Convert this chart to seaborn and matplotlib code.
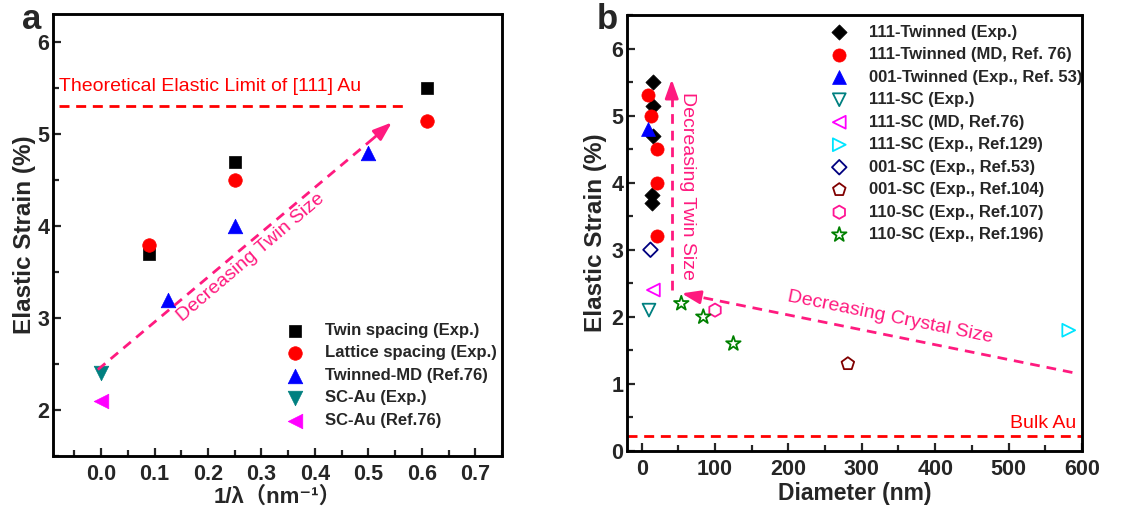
import matplotlib
matplotlib.use("Agg")
import matplotlib.pyplot as plt
import seaborn as sns
from matplotlib.patches import Rectangle
from matplotlib.ticker import MultipleLocator

# ---------------- panel a: strain vs inverse twin spacing ----------------
a_twin_x = [0.09, 0.25, 0.61]
a_twin_y = [3.7, 4.7, 5.5]
a_latt_x = [0.09, 0.25, 0.61]
a_latt_y = [3.8, 4.5, 5.15]
a_md_x = [0.125, 0.25, 0.5]
a_md_y = [3.2, 4.0, 4.8]
a_scexp_x = [0.0]
a_scexp_y = [2.4]
a_scref_x = [0.0]
a_scref_y = [2.1]
a_labels = ["Twin spacing (Exp.)", "Lattice spacing (Exp.)", "Twinned-MD (Ref.76)",
            "SC-Au (Exp.)", "SC-Au (Ref.76)"]
a_limit = 5.31

# ---------------- panel b: strain vs diameter ----------------
b_tw_exp_x = [15, 15, 15, 14, 14]
b_tw_exp_y = [5.5, 5.15, 4.69, 3.82, 3.69]
b_tw_md_x = [9, 13, 21, 21, 21]
b_tw_md_y = [5.3, 5.0, 4.5, 4.0, 3.2]
b_tw001_x = [8]
b_tw001_y = [4.8]
b_sc_exp_x = [10]
b_sc_exp_y = [2.1]
b_sc_md_x = [16]
b_sc_md_y = [2.4]
b_sc129_x = [582]
b_sc129_y = [1.8]
b_sc53_x = [12]
b_sc53_y = [3.0]
b_sc104_x = [281]
b_sc104_y = [1.3]
b_sc107_x = [100]
b_sc107_y = [2.1]
b_sc196_x = [54, 84, 125]
b_sc196_y = [2.2, 2.0, 1.6]
b_labels = ["111-Twinned (Exp.)", "111-Twinned (MD, Ref. 76)", "001-Twinned (Exp., Ref. 53)",
            "111-SC (Exp.)", "111-SC (MD, Ref.76)", "111-SC (Exp., Ref.129)",
            "001-SC (Exp., Ref.53)", "001-SC (Exp., Ref.104)", "110-SC (Exp., Ref.107)",
            "110-SC (Exp., Ref.196)"]
b_bulk = 0.22

sns.set_theme(style="ticks")
plt.rcParams["font.family"] = ["Liberation Sans", "Noto Sans CJK SC", "DejaVu Sans"]
plt.rcParams["axes.linewidth"] = 1.8

PINK = "#ff1a7f"
RED = "#ff0000"
DASH = (0, (3.6, 2.4))

fig = plt.figure(figsize=(11.22, 5.14), dpi=100)
ax_a = fig.add_axes([0.0472, 0.1128, 0.4002, 0.8600])
ax_b = fig.add_axes([0.5588, 0.1226, 0.4055, 0.8482])


def style_axis(ax):
    ax.tick_params(axis="both", which="both", direction="in", top=False, right=False,
                   labelsize=15.5, width=1.6)
    ax.tick_params(axis="x", which="both", pad=6)
    ax.tick_params(axis="y", which="both", pad=2.5)
    ax.tick_params(which="major", length=6)
    ax.tick_params(which="minor", length=4)
    for lab in ax.get_xticklabels() + ax.get_yticklabels():
        lab.set_fontweight("bold")
    for sp in ax.spines.values():
        sp.set_color("black")
        sp.set_linewidth(1.8)
    # closed frame around the plotting area
    ax.add_patch(Rectangle((0, 0), 1, 1, transform=ax.transAxes, fill=False,
                           edgecolor="black", linewidth=1.8, clip_on=False, zorder=6))


def pts(ax, x, y, marker, color, s, label, hollow=False):
    if hollow:
        sns.scatterplot(x=x, y=y, ax=ax, marker=marker, s=s, color=color,
                        facecolor="none", edgecolor=color, linewidth=1.3,
                        label=label, legend=False)
    else:
        sns.scatterplot(x=x, y=y, ax=ax, marker=marker, s=s, color=color,
                        edgecolor=color, linewidth=0.5, label=label, legend=False)


def dashed_arrow(ax, start, end, head_from):
    ax.plot([start[0], head_from[0]], [start[1], head_from[1]], color=PINK, lw=2.0,
            linestyle=(0, (3.5, 2.5)))
    ax.annotate("", xy=end, xytext=head_from,
                arrowprops=dict(arrowstyle="-|>,head_length=0.7,head_width=0.25",
                                color=PINK, lw=2.0, mutation_scale=16,
                                shrinkA=0, shrinkB=0))


# ---- panel a ----
pts(ax_a, a_twin_x, a_twin_y, "s", "black", 75, a_labels[0])
pts(ax_a, a_latt_x, a_latt_y, "o", RED, 95, a_labels[1])
pts(ax_a, a_md_x, a_md_y, "^", "#0000ff", 110, a_labels[2])
pts(ax_a, a_scexp_x, a_scexp_y, "v", "#008080", 110, a_labels[3])
pts(ax_a, a_scref_x, a_scref_y, "<", "#ff00ff", 110, a_labels[4])

ax_a.plot([-0.078, 0.566], [a_limit, a_limit], color=RED, lw=2.0, linestyle=DASH)
ax_a.text(-0.078, a_limit + 0.21, "Theoretical Elastic Limit of [111] Au", color=RED,
          fontsize=14, va="center", ha="left")

dashed_arrow(ax_a, (-0.006, 2.44), (0.544, 5.13), (0.51, 4.96))
ax_a.text(0.280, 3.66, "Decreasing Twin Size", color=PINK, fontsize=14,
          rotation=40.5, rotation_mode="anchor", ha="center", va="center")

ax_a.set_xlim(-0.09, 0.75)
ax_a.set_ylim(1.5, 6.31)
ax_a.xaxis.set_minor_locator(MultipleLocator(0.05))
ax_a.yaxis.set_minor_locator(MultipleLocator(0.5))
ax_a.set_xticks([0, 0.1, 0.2, 0.3, 0.4, 0.5, 0.6, 0.7])
ax_a.set_xticklabels(["0.0", "0.1", "0.2", "0.3", "0.4", "0.5", "0.6", "0.7"])
ax_a.set_yticks([2, 3, 4, 5, 6])
ax_a.set_yticklabels(["2", "3", "4", "5", "6"])
ax_a.set_xlabel("1/λ（nm⁻¹）", fontsize=16, fontweight="bold", labelpad=1)
ax_a.set_ylabel("Elastic Strain (%)", fontsize=17.5, fontweight="bold", labelpad=1)
style_axis(ax_a)
ax_a.legend(loc="upper left", bbox_to_anchor=(0.503, 0.301), frameon=False,
            prop=dict(size=12, weight="bold"), borderpad=0, borderaxespad=0,
            labelspacing=0.45, handletextpad=0.8, handlelength=2.0)

# ---- panel b ----
pts(ax_b, b_tw_exp_x, b_tw_exp_y, "D", "black", 60, b_labels[0])
pts(ax_b, b_tw_md_x, b_tw_md_y, "o", RED, 90, b_labels[1])
pts(ax_b, b_tw001_x, b_tw001_y, "^", "#0000ff", 100, b_labels[2])
pts(ax_b, b_sc_exp_x, b_sc_exp_y, "v", "#008080", 85, b_labels[3], hollow=True)
pts(ax_b, b_sc_md_x, b_sc_md_y, "<", "#ff00ff", 85, b_labels[4], hollow=True)
pts(ax_b, b_sc129_x, b_sc129_y, ">", "#00e5ff", 85, b_labels[5], hollow=True)
pts(ax_b, b_sc53_x, b_sc53_y, "D", "#000080", 55, b_labels[6], hollow=True)
pts(ax_b, b_sc104_x, b_sc104_y, "p", "#800000", 90, b_labels[7], hollow=True)
pts(ax_b, b_sc107_x, b_sc107_y, "h", "#ff1493", 90, b_labels[8], hollow=True)
pts(ax_b, b_sc196_x, b_sc196_y, "*", "#008000", 120, b_labels[9], hollow=True)

ax_b.plot([-20, 600], [b_bulk, b_bulk], color=RED, lw=2.0, linestyle=DASH)
ax_b.text(592, b_bulk + 0.19, "Bulk Au", color=RED, fontsize=14, ha="right", va="center")

dashed_arrow(ax_b, (41, 2.4), (41, 5.54), (41, 5.3))
ax_b.text(63, 3.95, "Decreasing Twin Size", color=PINK, fontsize=14, rotation=-90,
          ha="center", va="center")
dashed_arrow(ax_b, (587, 1.17), (54.5, 2.35), (80, 2.294))
ax_b.text(338, 2.0, "Decreasing Crystal Size", color=PINK, fontsize=14,
          rotation=-11.4, rotation_mode="anchor", ha="center", va="center")

ax_b.set_xlim(-20, 600)
ax_b.set_ylim(0, 6.5)
ax_b.xaxis.set_minor_locator(MultipleLocator(50))
ax_b.yaxis.set_minor_locator(MultipleLocator(0.5))
ax_b.set_xticks([0, 100, 200, 300, 400, 500, 600])
ax_b.set_xticklabels(["0", "100", "200", "300", "400", "500", "600"])
ax_b.set_yticks([0, 1, 2, 3, 4, 5, 6])
ax_b.set_yticklabels(["0", "1", "2", "3", "4", "5", "6"])
ax_b.set_xlabel("Diameter (nm)", fontsize=16.5, fontweight="bold", labelpad=1)
ax_b.set_ylabel("Elastic Strain (%)", fontsize=17.5, fontweight="bold", labelpad=3)
style_axis(ax_b)
ax_b.legend(loc="upper left", bbox_to_anchor=(0.43, 0.978), frameon=False,
            prop=dict(size=12, weight="bold"), borderpad=0, borderaxespad=0,
            labelspacing=0.45, handletextpad=0.8, handlelength=2.0)

fig.text(0.020, 0.962, "a", fontsize=25, fontweight="bold", va="center", ha="left")
fig.text(0.532, 0.962, "b", fontsize=25, fontweight="bold", va="center", ha="left")

fig.savefig("out.png", dpi=100)
